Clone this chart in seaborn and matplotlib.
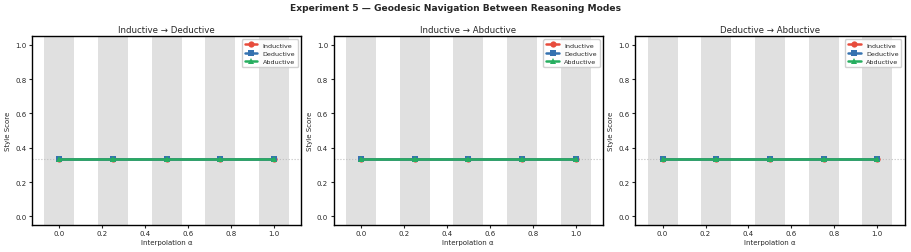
import matplotlib
matplotlib.use("Agg")
import matplotlib.pyplot as plt
import seaborn as sns
import numpy as np
import pandas as pd

sns.set_style("white")
plt.rcParams['font.family'] = ['DejaVu Sans']

# data
alphas = [0.0, 0.25, 0.5, 0.75, 1.0]
panels = ['Inductive → Deductive', 'Inductive → Abductive', 'Deductive → Abductive']
inductive = [0.333, 0.333, 0.333, 0.333, 0.333]
deductive = [0.333, 0.333, 0.333, 0.333, 0.333]
abductive = [0.333, 0.333, 0.333, 0.333, 0.333]

modes = ['Inductive', 'Deductive', 'Abductive']
colors = {'Inductive': '#e74c3c', 'Deductive': '#3572b0', 'Abductive': '#27ae60'}
markers = {'Inductive': 'o', 'Deductive': 's', 'Abductive': '^'}

rows = []
for p in panels:
    for m, vals in zip(modes, [inductive, deductive, abductive]):
        for a, v in zip(alphas, vals):
            rows.append({'panel': p, 'mode': m, 'alpha': a, 'score': v})
df = pd.DataFrame(rows)

fig, axes = plt.subplots(1, 3, figsize=(9.11, 2.53), dpi=100)
fig.subplots_adjust(left=0.035, right=0.993, top=0.853, bottom=0.107, wspace=0.12)

for ax, p in zip(axes, panels):
    sub = df[df['panel'] == p]
    for a in alphas:
        ax.axvspan(a - 0.07, a + 0.07, color='#e0e0e0', lw=0, zorder=0)
    ax.axhline(1 / 3, color='#c0c0c0', ls=':', lw=0.8, zorder=1)
    for m in modes:
        d = sub[sub['mode'] == m]
        sns.lineplot(data=d, x='alpha', y='score', ax=ax, color=colors[m],
                     marker=markers[m], markersize=4.5, markeredgewidth=0,
                     linewidth=1.8, label=m, zorder=3)
    ax.set_ylim(-0.05, 1.05)
    ax.set_yticks([0.0, 0.2, 0.4, 0.6, 0.8, 1.0])
    ax.set_xticks([0.0, 0.2, 0.4, 0.6, 0.8, 1.0])
    ax.set_title(p, fontsize=6.2, pad=3)
    ax.set_xlabel('Interpolation α', fontsize=5, labelpad=1.5)
    ax.set_ylabel('Style Score', fontsize=5, labelpad=3)
    ax.tick_params(axis='both', labelsize=5, length=2, pad=2, left=True, bottom=True)
    for s in ax.spines.values():
        s.set_edgecolor('black')
        s.set_linewidth(1)
    ax.legend(loc='upper right', fontsize=4.6, handlelength=2, borderpad=0.45,
              labelspacing=0.45, framealpha=0.9)

fig.suptitle('Experiment 5 — Geodesic Navigation Between Reasoning Modes',
             fontsize=6.6, fontweight='bold', y=0.985)
fig.savefig('out.png', dpi=100)
